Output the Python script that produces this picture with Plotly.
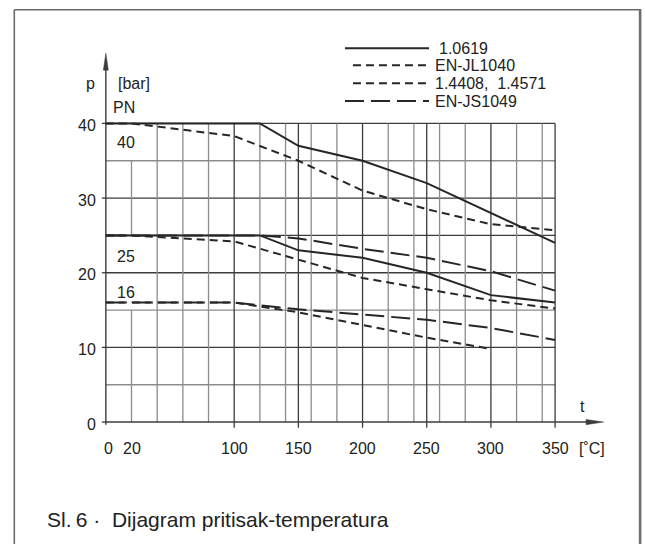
import plotly.graph_objects as go

# ---------------- data ----------------
t_steel = [0, 120, 150, 200, 250, 300, 350]
p_steel_pn40 = [40, 40, 37, 35, 32, 28, 24]
p_steel_pn25 = [25, 25, 23, 22, 20, 17, 16]

t_ss = [0, 20, 100, 150, 200, 250, 300, 350]
p_ss_pn40 = [40, 40, 38.3, 35, 31, 28.5, 26.5, 25.7]
p_ss_pn25 = [25, 25, 24.2, 21.7, 19.3, 17.8, 16.3, 15.2]

t_ci = [0, 100, 150, 200, 250, 300]
p_ci_pn16 = [16, 16, 14.7, 13.0, 11.3, 9.8]

t_di25 = [0, 120, 150, 200, 250, 300, 350]
p_di_pn25 = [25, 25, 24.6, 23.2, 22.0, 20.2, 17.6]
t_di16 = [0, 100, 150, 200, 250, 300, 350]
p_di_pn16 = [16, 16, 15.1, 14.4, 13.7, 12.6, 11.0]

x_tick_vals = [0, 20, 100, 150, 200, 250, 300, 350]
x_tick_text = ["0", "20", "100", "150", "200", "250", "300", "350"]
y_tick_vals = [0, 10, 20, 30, 40]
y_tick_text = ["0", "10", "20", "30", "40"]
legend_names = ["1.0619", "EN-JL1040", "1.4408,  1.4571", "EN-JS1049"]
pn_values = [40, 25, 16]
pn_text = ["40", "25", "16"]
grid_major_t = [100, 150, 200, 250, 300, 350]
grid_minor_t = [40, 60, 80, 120, 140, 160, 180, 220, 240, 260, 280, 320, 340]
grid_p = [5, 10, 15, 20, 25, 30, 35, 40]
caption = "Sl.\u20096 \u00b7  Dijagram pritisak-temperatura"

# ---------------- geometry ----------------
W, H = 645, 544
X0, KX = 106.0, 1.2829      # px of t=0, px per degC
Y0, KY = 422.3, 7.475       # px of p=0, px per bar
XR = [-10, 392]
YR = [-2, 50.5]
ml = X0 + KX * XR[0]
mr = W - (X0 + KX * XR[1])
mt = Y0 - KY * YR[1]
mb = H - (Y0 - KY * YR[0])
PW, PH = W - ml - mr, H - mt - mb


def dx(px):   # pixel -> data t
    return (px - X0) / KX


def dy(py):   # pixel -> data p
    return (Y0 - py) / KY


def pxp(px):  # pixel -> paper x
    return (px - ml) / PW


def pyp(py):  # pixel -> paper y
    return 1 - (py - mt) / PH


LINE = "#262626"
DARK = "#3c3c3c"
GREY = "#8c8c8c"
SHORT = "8px,5px"
LONG = "19px,7px"
FONT = "Arial, 'Liberation Sans', Helvetica, sans-serif"

fig = go.Figure()


def add(t, p, dash):
    fig.add_trace(go.Scatter(x=t, y=p, mode="lines", showlegend=False,
                             line=dict(color=LINE, width=2, dash=dash),
                             hoverinfo="skip"))


add(t_ss, p_ss_pn40, SHORT)
add(t_ss, p_ss_pn25, SHORT)
add(t_ci, p_ci_pn16, SHORT)
add(t_di25, p_di_pn25, LONG)
add(t_di16, p_di_pn16, LONG)
add(t_steel, p_steel_pn40, "solid")
add(t_steel, p_steel_pn25, "solid")

shapes = []


def seg(x0, y0, x1, y1, color, width, ref="data", dash="solid", layer="below"):
    if ref == "data":
        shapes.append(dict(type="line", xref="x", yref="y", x0=x0, y0=y0, x1=x1, y1=y1,
                           line=dict(color=color, width=width, dash=dash), layer=layer))
    else:
        shapes.append(dict(type="line", xref="paper", yref="paper",
                           x0=pxp(x0), y0=pyp(y0), x1=pxp(x1), y1=pyp(y1),
                           line=dict(color=color, width=width, dash=dash), layer=layer))


# horizontal grid
for p in grid_p:
    seg(0, p, 350, p, DARK if p % 10 == 0 or p == 25 else GREY, 1.3)
# vertical grid
for t in grid_minor_t:
    seg(t, 0, t, 40, GREY, 1.3)
seg(20, 0, 20, 15, GREY, 1.3)
seg(20, 25, 20, 35, GREY, 1.3)
for t in grid_major_t:
    seg(t, dy(428), t, 40, DARK, 1.3)

# axes
seg(0, 0, dx(590), 0, DARK, 1.4)
seg(0, dy(425), 0, dy(66), DARK, 1.4)
for p in y_tick_vals:
    seg(dx(102), p, 0, p, DARK, 1.3)
# arrowheads
shapes.append(dict(type="path", xref="x", yref="y", layer="below",
                   path=f"M {dx(603.5)},{dy(Y0)} L {dx(586)},{dy(Y0-2.6)} L {dx(586)},{dy(Y0+2.6)} Z",
                   fillcolor=DARK, line=dict(color=DARK, width=0.5)))
shapes.append(dict(type="path", xref="x", yref="y", layer="below",
                   path=f"M {dx(X0)},{dy(53)} L {dx(X0-2.5)},{dy(70)} L {dx(X0+2.5)},{dy(70)} Z",
                   fillcolor=DARK, line=dict(color=DARK, width=0.5)))

# frame
seg(14.5, 9.5, 640, 9.5, "#6a6a6a", 1.6, ref="px", layer="above")
seg(14.5, 9.5, 14.5, 560, "#6a6a6a", 1.6, ref="px", layer="above")
seg(640, 8.7, 640, 560, "#6e6e6e", 2.6, ref="px", layer="above")

# legend samples
leg_y = [48, 65, 83, 101]
leg_x0 = [345, 353, 353, 345]
leg_dash = ["solid", SHORT, SHORT, LONG]
for yy, xx, dd in zip(leg_y, leg_x0, leg_dash):
    seg(xx, yy, 429, yy, LINE, 2, ref="px", dash=dd, layer="above")

annotations = []


def txt(x, y, s, anchor="left", size=16):
    annotations.append(dict(xref="paper", yref="paper", x=pxp(x), y=pyp(y), text=s,
                            showarrow=False, xanchor=anchor, yanchor="middle",
                            font=dict(family=FONT, size=size, color="#222")))


leg_tx = [437, 433, 433, 433]
for yy, xx, name in zip(leg_y, leg_tx, legend_names):
    txt(xx, yy, name)

# tick labels
for v, s in zip(x_tick_vals, x_tick_text):
    txt(X0 + KX * v + (3 if v == 0 else 0), 449, s, anchor="center")
for v, s in zip(y_tick_vals, y_tick_text):
    txt(98.5, Y0 - KY * v + 2, s, anchor="right")

# axis titles
txt(91, 83, "p", anchor="center")
txt(116, 83, "[bar]")
txt(111, 107, "PN")
txt(582, 407, "t", anchor="center")
txt(577, 449, "[\u02daC]")
# PN labels in the chart
pn_offsets = [19.5, 21.5, -10.5]
for v, s, off in zip(pn_values, pn_text, pn_offsets):
    txt(115, Y0 - KY * v + off, s)

# caption
txt(45, 520, caption, size=21)

fig.update_layout(
    width=W, height=H,
    margin=dict(l=ml, r=mr, t=mt, b=mb, pad=0),
    paper_bgcolor="white", plot_bgcolor="white",
    xaxis=dict(range=XR, visible=False, fixedrange=True),
    yaxis=dict(range=YR, visible=False, fixedrange=True),
    shapes=shapes, annotations=annotations,
    showlegend=False,
)

fig.write_html("out.html", config={"displayModeBar": False, "staticPlot": True},
               post_script="document.body.style.margin='0';document.body.style.overflow='hidden';")
